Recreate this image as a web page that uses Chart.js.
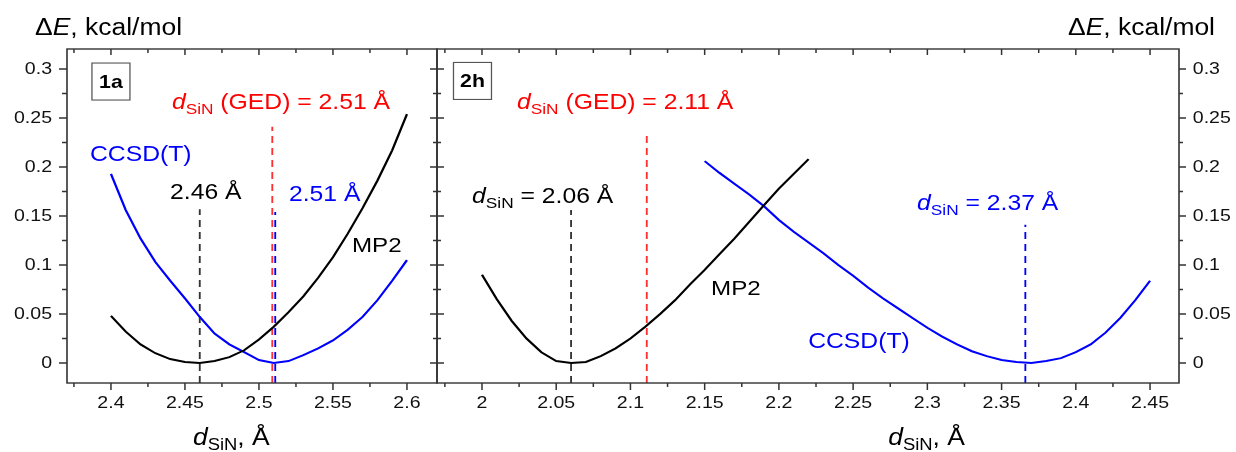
<!DOCTYPE html>
<html><head><meta charset="utf-8">
<script src="https://cdn.jsdelivr.net/npm/chart.js@4.4.0/dist/chart.umd.min.js"></script>
<style>
html,body{margin:0;padding:0;background:#fff;}
#wrap{position:relative;width:1236px;height:452px;overflow:hidden;background:#fff;}
canvas{position:absolute;left:0;top:0;}
</style></head><body>
<div id="wrap"><canvas id="c1" width="1236" height="452"></canvas><canvas id="c2" width="1236" height="452"></canvas></div>
<script>
// ---------------- data ----------------
const dLeft    = [2.40,2.41,2.42,2.43,2.44,2.45,2.46,2.47,2.48,2.49,2.50,2.51,2.52,2.53,2.54,2.55,2.56,2.57,2.58,2.59,2.60];
const mp2Left  = [0.048,0.032,0.019,0.010,0.004,0.001,0.000,0.002,0.006,0.013,0.024,0.037,0.052,0.068,0.087,0.108,0.132,0.158,0.186,0.217,0.254];
const ccsdLeft = [0.193,0.156,0.127,0.103,0.084,0.066,0.047,0.030,0.019,0.011,0.003,0.000,0.002,0.008,0.015,0.023,0.034,0.047,0.064,0.084,0.105];

const dRightMP2 = [2.00,2.01,2.02,2.03,2.04,2.05,2.06,2.07,2.08,2.09,2.10,2.11,2.12,2.13,2.14,2.15,2.16,2.17,2.18,2.19,2.20,2.21,2.22];
const mp2Right  = [0.090,0.065,0.043,0.025,0.011,0.002,0.000,0.001,0.007,0.015,0.025,0.037,0.050,0.064,0.080,0.095,0.111,0.127,0.144,0.161,0.178,0.193,0.208];
const dRightCC  = [2.15,2.16,2.17,2.18,2.19,2.20,2.21,2.22,2.23,2.24,2.25,2.26,2.27,2.28,2.29,2.30,2.31,2.32,2.33,2.34,2.35,2.36,2.37,2.38,2.39,2.40,2.41,2.42,2.43,2.44,2.45];
const ccsdRight = [0.206,0.194,0.183,0.172,0.160,0.146,0.134,0.123,0.112,0.100,0.089,0.077,0.066,0.056,0.046,0.036,0.027,0.019,0.012,0.007,0.003,0.001,0.000,0.002,0.005,0.011,0.019,0.031,0.046,0.064,0.084];

// vertical dashed markers: [x, top y]
const markMP2Left  = [2.46, 0.157];
const markGEDLeft  = [2.509, 0.241];
const markCCLeft   = [2.511, 0.154];
const markMP2Right = [2.06, 0.156];
const markGEDRight = [2.111, 0.233];
const markCCRight  = [2.366, 0.141];

// axes
const yMin = -0.0204, yMax = 0.3204;
const xRangeLeft  = [2.3703, 2.6203];
const xRangeRight = [1.9697, 2.4695];
const yTicks  = [0, 0.05, 0.1, 0.15, 0.2, 0.25, 0.3];
const yMinor  = [0.025, 0.075, 0.125, 0.175, 0.225, 0.275];
const xTicksLeft  = [2.4, 2.45, 2.5, 2.55, 2.6];
const xMinorLeft  = [2.375, 2.425, 2.475, 2.525, 2.575];
const xTicksRight = [2, 2.05, 2.1, 2.15, 2.2, 2.25, 2.3, 2.35, 2.4, 2.45];
const xMinorRight = [1.975, 2.025, 2.075, 2.125, 2.175, 2.225, 2.275, 2.325, 2.375, 2.425];

// ---------------- styling ----------------
const SX = 1.15;               // horizontal stretch of the reference figure
const FONT = '"Liberation Sans", Arial, Helvetica, sans-serif';
const BLUE = '#0000ff', RED = '#ff0000', REDLINE = '#ff3030', BLACK = '#000000', DARK = '#333333';

function fmt(v){ return String(+(+v).toFixed(3)); }
function pts(xs, ys){ return xs.map((x,i)=>({x:x, y:ys[i]})); }
function vline(m){ return [{x:m[0], y:yMin}, {x:m[0], y:m[1]}]; }

function curve(data, color){ return {data, borderColor:color, borderWidth:2, showLine:true, pointRadius:0, tension:0, fill:false}; }
function dashed(data, color){ return {data, borderColor:color, borderWidth:1.6, borderDash:[7,5], showLine:true, pointRadius:0, tension:0, fill:false}; }

function rich(ctx, x, y, segs, size, color, align){
  const parts = segs.map(s=>{
    const fs = s.sub ? Math.round(size*0.7) : size;
    const font = (s.i?'italic ':'') + (s.b?'bold ':'') + fs + 'px ' + FONT;
    ctx.font = font;
    return {s, font, w: ctx.measureText(s.t).width};
  });
  const total = parts.reduce((a,p)=>a+p.w,0);
  let cx = align==='right' ? x-total : (align==='center' ? x-total/2 : x);
  ctx.fillStyle = color; ctx.textAlign='left'; ctx.textBaseline='alphabetic';
  for (const p of parts){
    ctx.font = p.font;
    ctx.fillText(p.s.t, cx, y + (p.s.sub ? size*0.22 : 0));
    cx += p.w;
  }
}

function makePlugin(opt){
  return {
    id: 'decor',
    beforeDraw(chart){ const c = chart.ctx; c.save(); c.scale(SX,1); },
    afterDraw(chart){
      const c = chart.ctx;
      const {left,right,top,bottom} = chart.chartArea;
      const xs = chart.scales.x, ys = chart.scales.y;
      c.strokeStyle = DARK; c.lineWidth = 1.4;
      c.strokeRect(left, top, right-left, bottom-top);
      c.beginPath();
      const H = 1/SX;
      const tickX = (vals, maj) => vals.forEach(v=>{
        const p = xs.getPixelForValue(v);
        c.moveTo(p, bottom); c.lineTo(p, bottom + (maj?7:4));
        c.moveTo(p, top);    c.lineTo(p, top + (maj?6:4));
      });
      const tickY = (vals, maj) => vals.forEach(v=>{
        const p = ys.getPixelForValue(v);
        if (opt.leftOut){ c.moveTo(left,p); c.lineTo(left-(maj?8:5)*H,p); }
        if (opt.leftIn){ c.moveTo(left,p); c.lineTo(left+(maj?7:4)*H,p); }
        if (opt.rightIn){ c.moveTo(right,p); c.lineTo(right-(maj?7:4)*H,p); }
        if (opt.rightOut){ c.moveTo(right,p); c.lineTo(right+(maj?7:4)*H,p); }
      });
      tickX(opt.xMaj,true); tickX(opt.xMin,false);
      tickY(yTicks,true); tickY(yMinor,false);
      c.lineWidth = 1.3; c.stroke();

      // boxed panel label
      const bx = xs.getPixelForValue(opt.box[1]), by = ys.getPixelForValue(opt.box[2]);
      c.strokeStyle = '#555'; c.lineWidth = 1.1;
      c.strokeRect(bx - 19*H, by - 18.5, 38*H, 37);
      c.fillStyle = BLACK; c.font = 'bold 18.5px ' + FONT; c.textAlign='center'; c.textBaseline='middle';
      c.fillText(opt.box[0], bx, by+1);

      // labels
      opt.labels.forEach(L=>{
        rich(c, xs.getPixelForValue(L.x), ys.getPixelForValue(L.y), L.segs, L.size, L.color, 'left');
      });
      // y title
      const ttl = [{t:'\u0394'},{t:'E',i:true},{t:', kcal/mol'}];
      if (opt.titleLeft) rich(c, left - 32*H, 35, ttl, 23, BLACK, 'left');
      else rich(c, right + 36*H, 35, ttl, 23, BLACK, 'right');
      // x title
      rich(c, xs.getPixelForValue(opt.xTitleX), 445, [{t:'d',i:true},{t:'SiN',sub:true},{t:', \u00C5'}], 23, BLACK, 'left');
      c.restore();
    }
  };
}

function axisX(range, ticks){
  return {type:'linear', position:'bottom', min:range[0], max:range[1],
    grid:{display:false, drawTicks:false}, border:{display:false},
    ticks:{autoSkip:false, maxRotation:0, minRotation:0, padding:10, color:'#111', font:{family:FONT, size:17}, callback:v=>fmt(v)},
    afterBuildTicks(s){ s.ticks = ticks.map(v=>({value:v})); },
    afterFit(s){ s.height = 69; }};
}
function axisY(pos, width, pad){
  return {type:'linear', position:pos, min:yMin, max:yMax,
    grid:{display:false, drawTicks:false}, border:{display:false},
    ticks:{autoSkip:false, padding:pad, color:'#111', font:{family:FONT, size:17}, callback:v=>fmt(v)},
    afterBuildTicks(s){ s.ticks = yTicks.map(v=>({value:v})); },
    afterFit(s){ s.width = width; }};
}

const H = 1/SX;
const sub = (pre, post) => [{t:'d',i:true},{t:'SiN',sub:true},{t:post}];

new Chart(document.getElementById('c1'), {
  type:'scatter',
  data:{datasets:[
    curve(pts(dLeft, mp2Left), BLACK),
    curve(pts(dLeft, ccsdLeft), BLUE),
    dashed(vline(markMP2Left), DARK),
    dashed(vline(markCCLeft), BLUE),
    dashed(vline(markGEDLeft), REDLINE)
  ]},
  options:{responsive:false, animation:false, events:[], devicePixelRatio:1,
    layout:{padding:{left:0, top:49, right:1236 - 437*H, bottom:0}},
    plugins:{legend:{display:false}, tooltip:{enabled:false}},
    scales:{x:axisX(xRangeLeft, xTicksLeft), y:axisY('left', 67*H, 13)}},
  plugins:[makePlugin({leftOut:true, rightIn:true, xMaj:xTicksLeft, xMin:xMinorLeft, titleLeft:true, xTitleX:2.4554,
    box:['1a', 2.40, 0.2872],
    labels:[
      {x:2.4412, y:0.2592, size:21.5, color:RED, segs:sub('', ' (GED) = 2.51 \u00C5')},
      {x:2.3858, y:0.2061, size:21.5, color:BLUE, segs:[{t:'CCSD(T)'}]},
      {x:2.4399, y:0.1673, size:21.5, color:BLACK, segs:[{t:'2.46 \u00C5'}]},
      {x:2.5203, y:0.1653, size:21.5, color:BLUE, segs:[{t:'2.51 \u00C5'}]},
      {x:2.5628, y:0.1133, size:21, color:BLACK, segs:[{t:'MP2'}]}
    ]})]
});

new Chart(document.getElementById('c2'), {
  type:'scatter',
  data:{datasets:[
    curve(pts(dRightMP2, mp2Right), BLACK),
    curve(pts(dRightCC, ccsdRight), BLUE),
    dashed(vline(markMP2Right), DARK),
    dashed(vline(markGEDRight), REDLINE),
    dashed(vline(markCCRight), BLUE)
  ]},
  options:{responsive:false, animation:false, events:[], devicePixelRatio:1,
    layout:{padding:{left:437*H, top:49, right:1236 - 1236*H, bottom:0}},
    plugins:{legend:{display:false}, tooltip:{enabled:false}},
    scales:{x:axisX(xRangeRight, xTicksRight), y:axisY('right', 57*H, 12)}},
  plugins:[makePlugin({leftIn:true, rightOut:true, xMaj:xTicksRight, xMin:xMinorRight, titleLeft:false, xTitleX:2.2736,
    box:['2h', 1.9936, 0.2878],
    labels:[
      {x:2.0236, y:0.2592, size:21.5, color:RED, segs:sub('', ' (GED) = 2.11 \u00C5')},
      {x:1.9933, y:0.1633, size:21.5, color:BLACK, segs:sub('', ' = 2.06 \u00C5')},
      {x:2.1543, y:0.0694, size:21, color:BLACK, segs:[{t:'MP2'}]},
      {x:2.2197, y:0.0153, size:21.5, color:BLUE, segs:[{t:'CCSD(T)'}]},
      {x:2.2931, y:0.1561, size:21.5, color:BLUE, segs:sub('', ' = 2.37 \u00C5')}
    ]})]
});
</script>
</body></html>
